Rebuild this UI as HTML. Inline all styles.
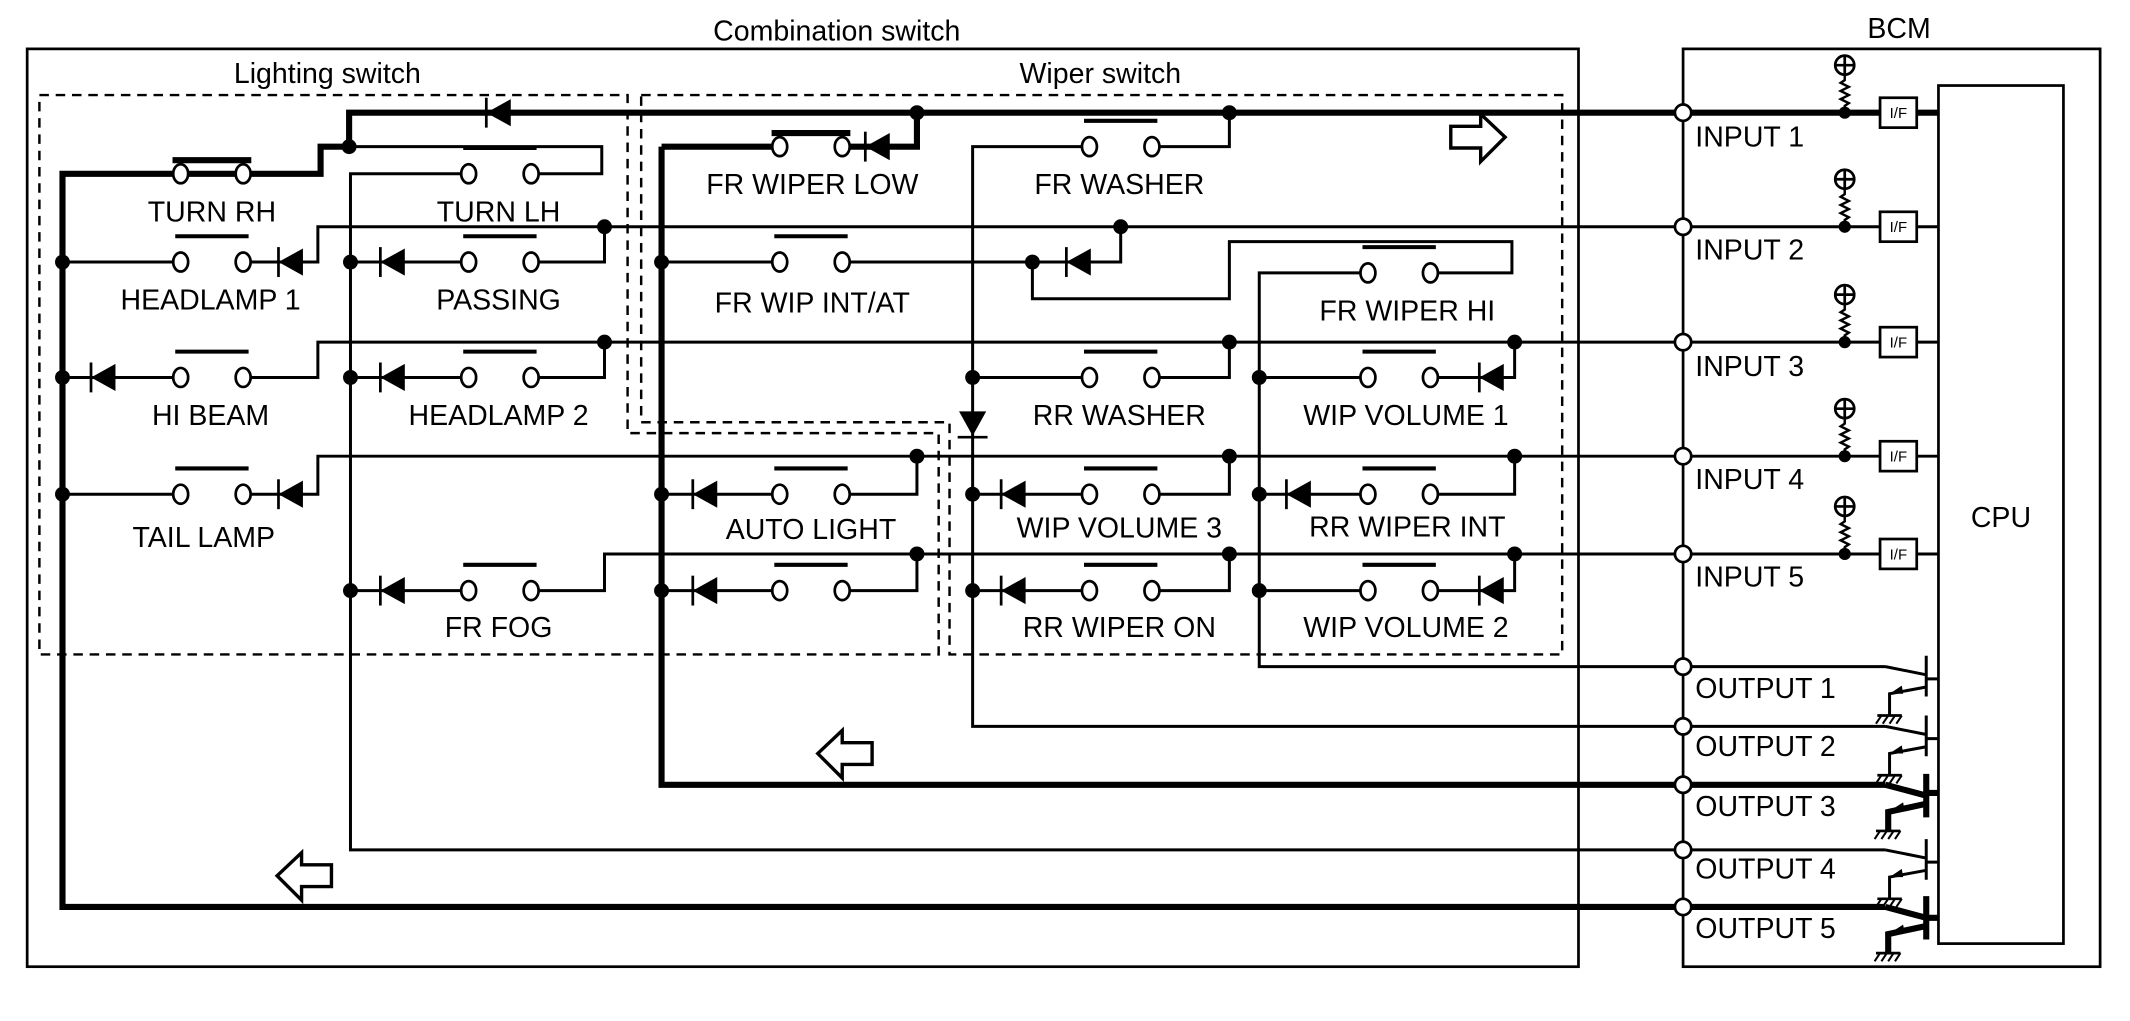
<!DOCTYPE html>
<html><head><meta charset="utf-8"><style>
html,body{margin:0;padding:0;background:#fff;}
svg{display:block;}
text{font-family:"Liberation Sans",sans-serif;fill:#000;}
</style></head><body>
<svg width="2130" height="1021" viewBox="0 0 1568 752" preserveAspectRatio="none" xmlns="http://www.w3.org/2000/svg">
<defs>
<g id="sw"><ellipse cx="0" cy="0" rx="5.5" ry="7" fill="#fff" stroke="#000" stroke-width="2"/><ellipse cx="46" cy="0" rx="5.5" ry="7" fill="#fff" stroke="#000" stroke-width="2"/><line x1="-4" y1="-19" x2="50" y2="-19" stroke="#000" stroke-width="3"/></g>
<g id="swc"><ellipse cx="0" cy="0" rx="5.5" ry="7" fill="#fff" stroke="#000" stroke-width="2"/><ellipse cx="46" cy="0" rx="5.5" ry="7" fill="#fff" stroke="#000" stroke-width="2"/><line x1="-6" y1="-10" x2="52" y2="-10" stroke="#000" stroke-width="4.5"/></g>
<g id="dl"><polygon points="10,-10 10,10 -8,0" fill="#000"/><line x1="-8" y1="-11" x2="-8" y2="11" stroke="#000" stroke-width="2"/></g>
<g id="dr"><polygon points="-10,-10 -10,10 8,0" fill="#000"/><line x1="8" y1="-11" x2="8" y2="11" stroke="#000" stroke-width="2"/></g>
<g id="pu"><circle cx="0" cy="-35" r="7" fill="#fff" stroke="#000" stroke-width="2"/><line x1="-7" y1="-35" x2="7" y2="-35" stroke="#000" stroke-width="2"/><line x1="0" y1="-42" x2="0" y2="-28" stroke="#000" stroke-width="2"/><polyline points="0,-28 0,-24 -3,-22 3,-19 -3,-16 3,-13 -3,-10 3,-7 0,-5 0,0" fill="none" stroke="#000" stroke-width="1.8"/><circle cx="0" cy="0" r="4.5" fill="#000"/></g>
<g id="gnd"><line x1="-9" y1="0" x2="9" y2="0" stroke="#000" stroke-width="2"/><line x1="-6" y1="0" x2="-10" y2="6" stroke="#000" stroke-width="1.5"/><line x1="-1" y1="0" x2="-5" y2="6" stroke="#000" stroke-width="1.5"/><line x1="4" y1="0" x2="0" y2="6" stroke="#000" stroke-width="1.5"/><line x1="9" y1="0" x2="5" y2="6" stroke="#000" stroke-width="1.5"/></g>
</defs>

<!-- boxes -->
<rect x="20" y="36" width="1142" height="676" fill="none" stroke="#000" stroke-width="2"/>
<rect x="1239" y="36" width="307" height="676" fill="none" stroke="#000" stroke-width="2"/>
<rect x="1427" y="63" width="92" height="632" fill="none" stroke="#000" stroke-width="2"/>
<text x="616" y="30" font-size="21" text-anchor="middle">Combination switch</text>
<text x="1398" y="28" font-size="21" text-anchor="middle">BCM</text>
<text x="1473" y="388" font-size="21" text-anchor="middle">CPU</text>
<text x="241" y="61" font-size="21" text-anchor="middle">Lighting switch</text>
<text x="810" y="61" font-size="21" text-anchor="middle">Wiper switch</text>

<!-- dashed groups -->
<polyline points="29,70 462,70 462,319 691,319 691,482 29,482 29,70" fill="none" stroke="#000" stroke-width="1.8" stroke-dasharray="7,5"/>
<polyline points="472,70 1150,70 1150,482 699,482 699,311 472,311 472,70" fill="none" stroke="#000" stroke-width="1.8" stroke-dasharray="7,5"/>

<!-- thick wires -->
<g fill="none" stroke="#000" stroke-width="4.5" stroke-linejoin="miter">
<path d="M1384,83 H257 V108 H236 V128 H46 V668 H1388"/>
<path d="M1411,83 H1427"/>
<path d="M487,108 V578 H1388"/>
<path d="M487,108 H574 M620,108 H675 V83"/>
<path d="M1388,578 L1418,586 M1418,570 V602 M1418,584 H1427 M1418,592 L1390,598 V612"/>
<path d="M1388,668 L1418,676 M1418,660 V692 M1418,676 H1427 M1418,682 L1390,688 V702"/>
</g>
<!-- thin wires -->
<g fill="none" stroke="#000" stroke-width="2.2">
<path d="M257,108 H443 V128 H390 M345,128 H258 V626 H1388"/>
<path d="M1384,167 H234 V193 H180 M133,193 H46 M445,167 V193 H390 M345,193 H258"/>
<path d="M1384,252 H234 V278 H180 M133,278 H46 M445,252 V278 H390 M345,278 H258"/>
<path d="M1384,336 H234 V364 H180 M133,364 H46"/>
<path d="M1384,408 H445 V435 H390 M345,435 H258"/>
<path d="M905,83 V108 H848 M800,108 H716 V535 H1388"/>
<path d="M825,167 V193 H760 M760,193 H620 M574,193 H487 M760,193 V220 H905 V178 H1113 V201 H1053 M1007,201 H927 V491 H1388"/>
<path d="M905,252 V278 H848 M800,278 H716 M1115,252 V278 H1053 M1007,278 H927"/>
<path d="M675,336 V364 H620 M574,364 H487 M905,336 V364 H848 M800,364 H716 M1115,336 V364 H1053 M1007,364 H927"/>
<path d="M675,408 V435 H620 M574,435 H487 M905,408 V435 H848 M800,435 H716 M1115,408 V435 H1053 M1007,435 H927"/>
<path d="M1411,167 H1427 M1411,252 H1427 M1411,336 H1427 M1411,408 H1427"/>
<path d="M1388,491 L1418,497 M1418,483 V513 M1418,500 H1427 M1418,506 L1391,511 V527"/>
<path d="M1388,535 L1418,541 M1418,527 V557 M1418,544 H1427 M1418,550 L1391,555 V571"/>
<path d="M1388,626 L1418,632 M1418,618 V648 M1418,635 H1427 M1418,641 L1391,646 V662"/>
</g>
<g fill="#000"><polygon points="1391,511 1400,505 1401,511"/><polygon points="1391,555 1400,549 1401,555"/><polygon points="1391,646 1400,640 1401,646"/><polygon points="1390,598 1401,591 1402,597"/><polygon points="1390,688 1401,681 1402,687"/></g>
<use href="#gnd" x="1391" y="527"/><use href="#gnd" x="1391" y="571"/><use href="#gnd" x="1390" y="612"/><use href="#gnd" x="1391" y="662"/><use href="#gnd" x="1390" y="702"/>

<!-- I/F boxes & pullups -->
<g fill="#fff" stroke="#000" stroke-width="2">
<rect x="1384" y="72" width="27" height="22"/><rect x="1384" y="156" width="27" height="22"/><rect x="1384" y="241" width="27" height="22"/><rect x="1384" y="325" width="27" height="22"/><rect x="1384" y="397" width="27" height="22"/>
</g>
<g font-size="11" text-anchor="middle">
<text x="1397.5" y="87">I/F</text><text x="1397.5" y="171">I/F</text><text x="1397.5" y="256">I/F</text><text x="1397.5" y="340">I/F</text><text x="1397.5" y="412">I/F</text>
</g>
<use href="#pu" x="1358" y="83"/><use href="#pu" x="1358" y="167"/><use href="#pu" x="1358" y="252"/><use href="#pu" x="1358" y="336"/><use href="#pu" x="1358" y="408"/>

<!-- BCM terminals -->
<g fill="#fff" stroke="#000" stroke-width="2">
<circle cx="1239" cy="83" r="6"/><circle cx="1239" cy="167" r="6"/><circle cx="1239" cy="252" r="6"/><circle cx="1239" cy="336" r="6"/><circle cx="1239" cy="408" r="6"/>
<circle cx="1239" cy="491" r="6"/><circle cx="1239" cy="535" r="6"/><circle cx="1239" cy="578" r="6"/><circle cx="1239" cy="626" r="6"/><circle cx="1239" cy="668" r="6"/>
</g>
<g font-size="21">
<text x="1248" y="108">INPUT 1</text><text x="1248" y="191">INPUT 2</text><text x="1248" y="277">INPUT 3</text><text x="1248" y="360">INPUT 4</text><text x="1248" y="432">INPUT 5</text>
<text x="1248" y="514">OUTPUT 1</text><text x="1248" y="557">OUTPUT 2</text><text x="1248" y="601">OUTPUT 3</text><text x="1248" y="647">OUTPUT 4</text><text x="1248" y="691">OUTPUT 5</text>
</g>

<!-- switches -->
<use href="#swc" x="133" y="128"/><use href="#sw" x="345" y="128"/>
<use href="#sw" x="133" y="193"/><use href="#sw" x="345" y="193"/>
<use href="#sw" x="133" y="278"/><use href="#sw" x="345" y="278"/>
<use href="#sw" x="133" y="364"/><use href="#sw" x="345" y="435"/>
<use href="#swc" x="574" y="108"/><use href="#sw" x="802" y="108"/>
<use href="#sw" x="574" y="193"/><use href="#sw" x="1007" y="201"/>
<use href="#sw" x="802" y="278"/><use href="#sw" x="1007" y="278"/>
<use href="#sw" x="574" y="364"/><use href="#sw" x="802" y="364"/><use href="#sw" x="1007" y="364"/>
<use href="#sw" x="574" y="435"/><use href="#sw" x="802" y="435"/><use href="#sw" x="1007" y="435"/>

<!-- diodes -->
<use href="#dl" x="366" y="83"/><use href="#dl" x="645" y="108"/>
<use href="#dl" x="213" y="193"/><use href="#dl" x="288" y="193"/>
<use href="#dl" x="75" y="278"/><use href="#dl" x="288" y="278"/>
<use href="#dl" x="213" y="364"/><use href="#dl" x="288" y="435"/>
<use href="#dl" x="793" y="193"/>
<use href="#dl" x="1097" y="278"/>
<use href="#dl" x="518" y="364"/><use href="#dl" x="518" y="435"/>
<use href="#dl" x="745" y="364"/><use href="#dl" x="745" y="435"/>
<use href="#dl" x="955" y="364"/><use href="#dl" x="1097" y="435"/>
<polygon points="706,303 726,303 716,321" fill="#000"/><line x1="705" y1="322" x2="727" y2="322" stroke="#000" stroke-width="2"/>

<!-- nodes -->
<g fill="#000">
<circle cx="257" cy="108" r="5.5"/><circle cx="46" cy="193" r="5.5"/><circle cx="46" cy="278" r="5.5"/><circle cx="46" cy="364" r="5.5"/>
<circle cx="258" cy="193" r="5.5"/><circle cx="258" cy="278" r="5.5"/><circle cx="258" cy="435" r="5.5"/>
<circle cx="445" cy="167" r="5.5"/><circle cx="445" cy="252" r="5.5"/>
<circle cx="675" cy="83" r="5.5"/><circle cx="905" cy="83" r="5.5"/>
<circle cx="487" cy="193" r="5.5"/><circle cx="760" cy="193" r="5.5"/><circle cx="825" cy="167" r="5.5"/>
<circle cx="716" cy="278" r="5.5"/><circle cx="905" cy="252" r="5.5"/><circle cx="1115" cy="252" r="5.5"/><circle cx="927" cy="278" r="5.5"/>
<circle cx="675" cy="336" r="5.5"/><circle cx="905" cy="336" r="5.5"/><circle cx="1115" cy="336" r="5.5"/>
<circle cx="487" cy="364" r="5.5"/><circle cx="716" cy="364" r="5.5"/><circle cx="927" cy="364" r="5.5"/>
<circle cx="675" cy="408" r="5.5"/><circle cx="905" cy="408" r="5.5"/><circle cx="1115" cy="408" r="5.5"/>
<circle cx="487" cy="435" r="5.5"/><circle cx="716" cy="435" r="5.5"/><circle cx="927" cy="435" r="5.5"/>
</g>

<!-- hollow arrows -->
<g fill="#fff" stroke="#000" stroke-width="2.5">
<polygon points="1068,93 1090,93 1090,84 1108,101 1090,119 1090,109 1068,109"/>
<polygon points="642,547 620,547 620,538 602,555 620,573 620,563 642,563"/>
<polygon points="244,637 222,637 222,628 204,645 222,663 222,653 244,653"/>
</g>

<!-- labels -->
<g font-size="21" text-anchor="middle">
<text x="156" y="163">TURN RH</text><text x="367" y="163">TURN LH</text>
<text x="155" y="228">HEADLAMP 1</text><text x="367" y="228">PASSING</text>
<text x="155" y="313">HI BEAM</text><text x="367" y="313">HEADLAMP 2</text>
<text x="150" y="403">TAIL LAMP</text><text x="367" y="469">FR FOG</text>
<text x="598" y="143">FR WIPER LOW</text><text x="824" y="143">FR WASHER</text>
<text x="598" y="230">FR WIP INT/AT</text><text x="1036" y="236">FR WIPER HI</text>
<text x="824" y="313">RR WASHER</text><text x="1035" y="313">WIP VOLUME 1</text>
<text x="597" y="397">AUTO LIGHT</text><text x="824" y="396">WIP VOLUME 3</text><text x="1036" y="395">RR WIPER INT</text>
<text x="824" y="469">RR WIPER ON</text><text x="1035" y="469">WIP VOLUME 2</text>
</g>
</svg>
</body></html>
